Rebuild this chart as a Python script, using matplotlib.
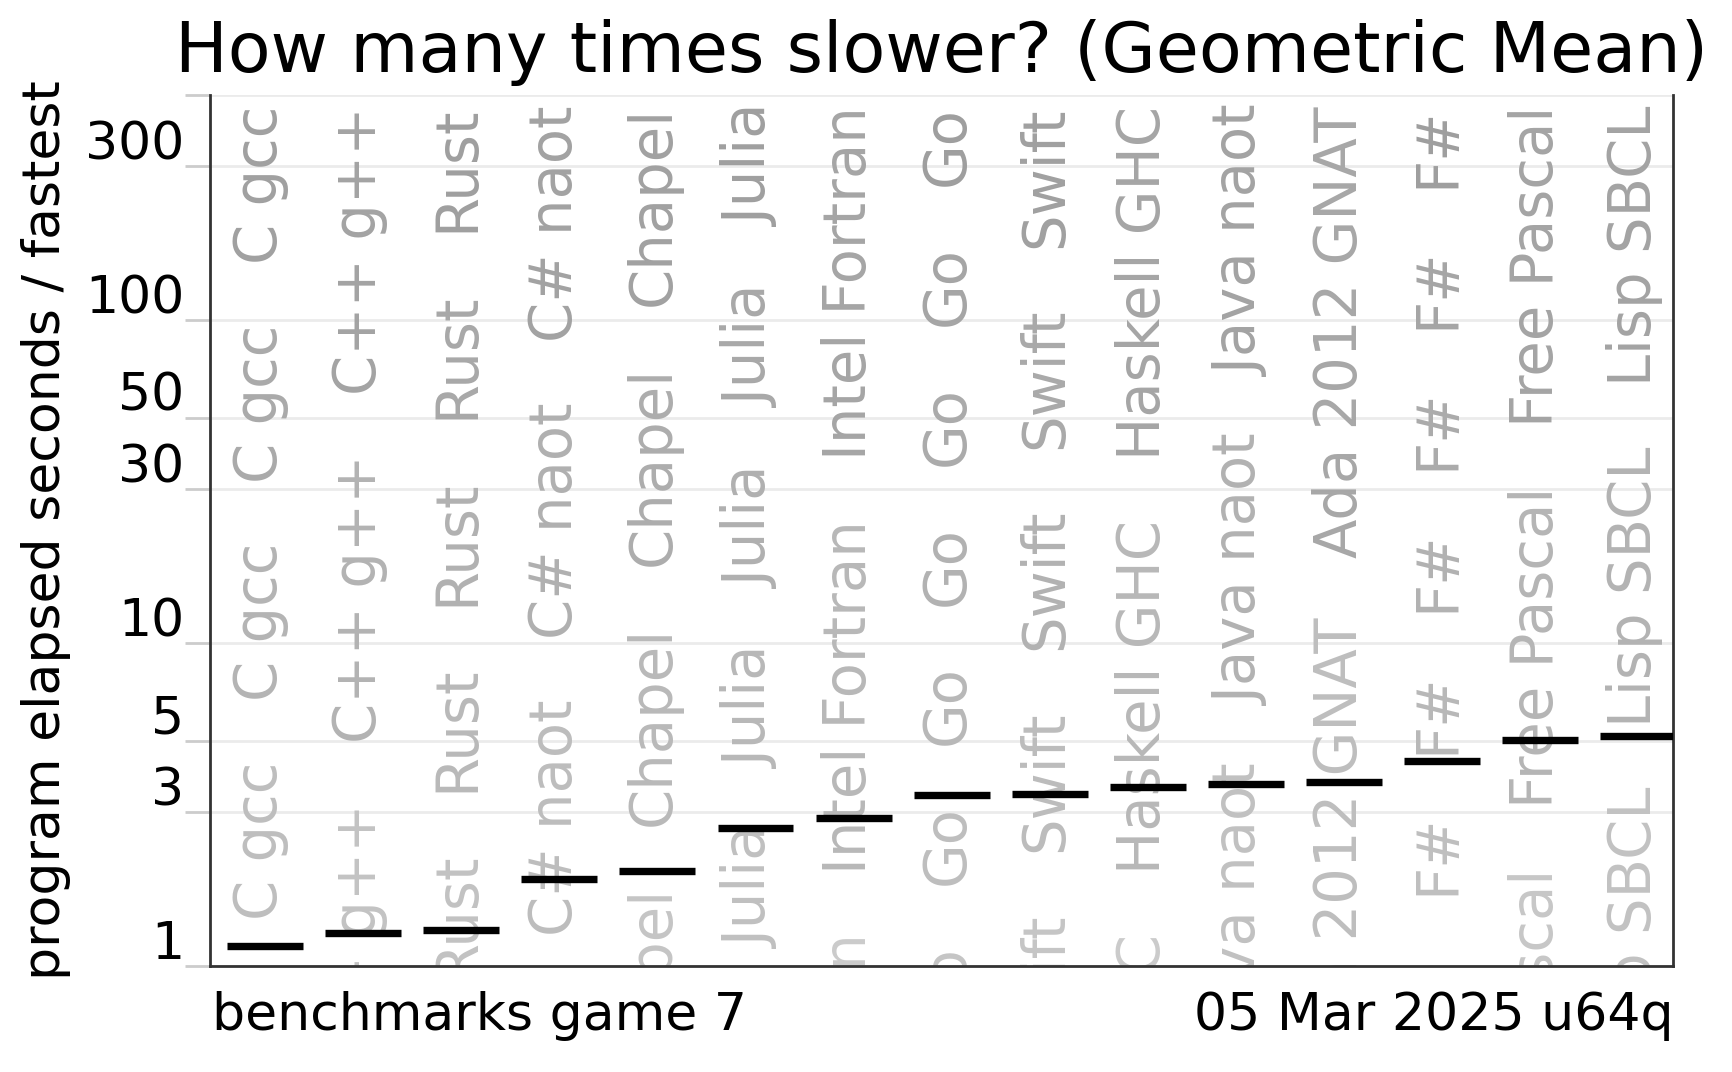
import matplotlib
matplotlib.use("Agg")
import matplotlib.pyplot as plt
import matplotlib.transforms as mtransforms
from matplotlib.ticker import NullLocator
import numpy as np

# ---- data ----
languages = ["C gcc", "C++ g++", "Rust", "C# naot", "Chapel", "Julia",
             "Intel Fortran", "Go", "Swift", "Haskell GHC", "Java naot",
             "Ada 2012 GNAT", "F#", "Free Pascal", "Lisp SBCL"]
geomean = [1.156, 1.268, 1.293, 1.866, 1.970, 2.682, 2.880, 3.394, 3.425,
           3.593, 3.658, 3.719, 4.331, 5.015, 5.159]
ytick_values = [1, 3, 5, 10, 30, 50, 100, 300, 500]
ytick_labels = ["1", "3", "5", "10", "30", "50", "100", "300", ""]
title = "How many times slower? (Geometric Mean)"
ylabel = "program elapsed seconds / fastest"
footer_left = "benchmarks game 7"
footer_right = "05 Mar 2025 u64q"

W, H, DPI = 1733, 1072, 100
fig = plt.figure(figsize=(W / DPI, H / DPI), dpi=DPI)
ax_left, ax_right, ax_top, ax_bottom = 210, 1673.5, 94.7, 966.3
ax = fig.add_axes([ax_left / W, 1 - ax_bottom / H,
                   (ax_right - ax_left) / W, (ax_bottom - ax_top) / H])

x = np.arange(len(languages))
ax.set_yscale("log")
ax.set_ylim(1, 500)
ax.set_xlim(-0.561, 14.358)

ax.hlines(geomean, x - 0.387, x + 0.387, colors="black", linewidth=5.3,
          zorder=5, capstyle="butt")

ax.set_yticks(ytick_values)
ax.set_yticklabels(ytick_labels)
ax.yaxis.set_minor_locator(NullLocator())
ax.tick_params(axis="y", which="major", length=18, width=2, color="#cccccc",
               pad=0.5, labelsize=37.5, labelcolor="black")
ax.tick_params(axis="x", bottom=False, labelbottom=False)
ax.grid(axis="y", color="#ebebeb", linewidth=2)
ax.set_axisbelow(True)

offset = mtransforms.ScaledTranslation(0, 7 / DPI, fig.dpi_scale_trans)
for t in ax.yaxis.get_major_ticks():
    t.label1.set_verticalalignment("baseline")
    t.label1.set_transform(t.label1.get_transform() + offset)

ax.spines["top"].set_visible(False)
for s in ("left", "right", "bottom"):
    ax.spines[s].set_color("#333333")
    ax.spines[s].set_linewidth(2)

# repeated vertical language labels
renderer = fig.canvas.get_renderer()
base = mtransforms.blended_transform_factory(ax.transData, ax.transAxes)
anchor_px = 106.0
anchor_axes = (ax_bottom - anchor_px) / (ax_bottom - ax_top)
gap = 60.0
for i, lab in enumerate(languages):
    off = 0.0
    while anchor_px + off < ax_bottom:
        tr = base + mtransforms.ScaledTranslation(0, -off / DPI, fig.dpi_scale_trans)
        t = ax.text(x[i] + 0.127, anchor_axes, lab, rotation=90,
                    rotation_mode="anchor", ha="right", va="baseline",
                    fontsize=41.5, transform=tr, clip_on=True, zorder=2)
        length = t.get_window_extent(renderer).height
        center = anchor_px + off + length / 2
        g = int(round(min(205, 160 + 0.046 * (center - 183))))
        t.set_color("#%02x%02x%02x" % (g, g, g))
        off += length + gap

fig.text(942 / W, 1 - 71.5 / H, title, ha="center", va="baseline", fontsize=50.5)
fig.text(46 / W, 1 - 530 / H, ylabel, rotation=90, ha="center", va="center",
         fontsize=37.5)
fig.text(212 / W, 1 - 1030 / H, footer_left, ha="left", va="baseline", fontsize=37.5)
fig.text(1674 / W, 1 - 1030 / H, footer_right, ha="right", va="baseline", fontsize=37.5)

fig.savefig("out.png", dpi=DPI)
